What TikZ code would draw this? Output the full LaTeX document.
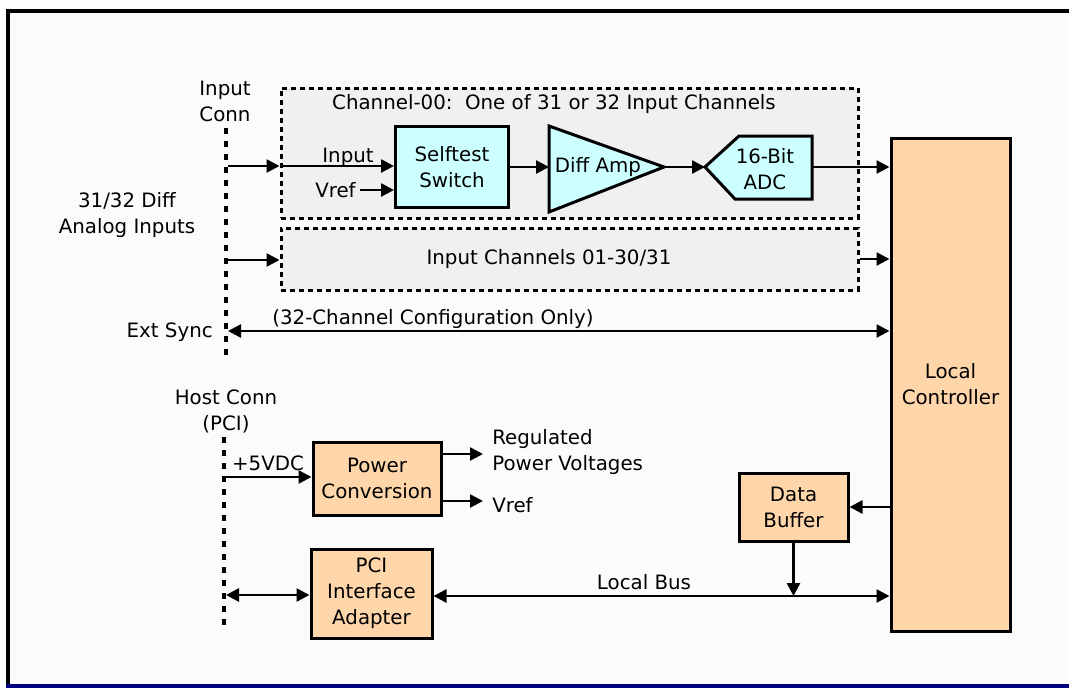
\documentclass[tikz,border=0pt]{standalone}
\usepackage{fontspec}
\setmainfont{DejaVu Sans}
\usetikzlibrary{arrows.meta}
\usetikzlibrary{positioning}
\definecolor{cyanbox}{HTML}{CCFFFF}
\definecolor{peach}{HTML}{FFD5AA}
\definecolor{chgray}{HTML}{F0F0F0}
\definecolor{pagebg}{HTML}{FBFBFB}
\definecolor{navyline}{HTML}{000080}

\begin{document}
\begin{tikzpicture}[x=1pt,y=-1pt,>={Triangle[length=13pt,width=13pt]},
			line width=2.6pt,font=\fontsize{19.8}{26}\selectfont]
			\tikzstyle{block}=[draw,line width=3pt,align=center,inner sep=0pt]
			\tikzstyle{cyanblock}=[block,fill=cyanbox]
			\tikzstyle{peachblock}=[block,fill=peach]
			\tikzstyle{chbox}=[draw,fill=chgray,line width=3pt,dash pattern=on 5pt off 4pt]
			\tikzstyle{conn}=[line width=3.5pt,dash pattern=on 6pt off 7pt]
			\tikzstyle{lbl}=[inner sep=0pt,align=center]

			% page and frame
			\useasboundingbox (0,0) rectangle (1069,688);
			\fill[white] (0,0) rectangle (1069,688);
			\fill[pagebg] (8,11) rectangle (1069,686);
			\draw[line width=4.5pt] (8,686) -- (8,11) -- (1069,11);
			\draw[navyline,line width=4.5pt] (6,686) -- (1069,686);

			% channel groups
			\node[chbox,minimum width=577pt,minimum height=130pt] (ch0) at (569.5,153) {};
			\node[lbl] (ch0title) at (554,104) {Channel-00:\ \ One of 31 or 32 Input Channels};
			\node[chbox,minimum width=577pt,minimum height=62pt] (chs) at (569.5,259) {};
			\node[lbl] (chslabel) at (549,259) {Input Channels 01-30/31};

			% connectors
			\coordinate (inconn top) at (226,128);
			\coordinate (inconn bot) at (226,355);
			\coordinate (hostconn top) at (224,437);
			\coordinate (hostconn bot) at (224,629);
			\draw[conn] (inconn top) -- (inconn bot);
			\draw[conn] (hostconn top) -- (hostconn bot);
			\node[lbl] (inconn) at (225,101) {Input\\Conn};
			\node[lbl] (analog) at (127,215) {31/32 Diff\\Analog Inputs};
			\node[lbl,anchor=east] (extsync) at (214,332) {Ext Sync};
			\node[lbl] (hostconn) at (226,411) {Host Conn\\(PCI)};

			% blocks
			\node[cyanblock,minimum width=113pt,minimum height=81pt] (sw) at (452,167) {Selftest\\Switch};
			\coordinate (amp in) at (549,167);
			\coordinate (amp out) at (664,167);
			\draw[fill=cyanbox,line width=3pt] (549,126) -- (amp out) -- (549,212) -- cycle;
			\node[lbl] (amp) at (598,167) {Diff Amp};
			\coordinate (adc in) at (705,167);
			\coordinate (adc out) at (812,167);
			\draw[fill=cyanbox,line width=3pt] (adc in) -- (739,136) -- (812,136) -- (812,199) -- (735,199) -- cycle;
			\node[lbl] (adc) at (765,169) {16-Bit\\ADC};
			\node[peachblock,minimum width=119pt,minimum height=493pt] (lc) at (950.5,384.5) {Local\\Controller};
			\node[peachblock,minimum width=128pt,minimum height=73pt] (pw) at (377,478.5) {Power\\Conversion};
			\node[peachblock,minimum width=121pt,minimum height=89pt] (pci) at (371.5,593.5) {PCI\\Interface\\Adapter};
			\node[peachblock,minimum width=109pt,minimum height=68pt] (db) at (793.5,507) {Data\\Buffer};

			% free ends and labels
			\coordinate (in0) at (228,166);
			\coordinate (ins) at (228,260);
			\coordinate (sync) at (228,331);
			\coordinate (vdc) at (226,477);
			\coordinate (host) at (226,595);
			\coordinate (bus) at (793.5,596);
			\coordinate (regtip) at (483,454);
			\coordinate (vreftip) at (483,501);
			\node[lbl] (inlabel) at (348,157) {Input};
			\node[lbl,anchor=east] (vrefin) at (357,190) {Vref};
			\node[lbl] (synclabel) at (433,319) {(32-Channel Configuration Only)};
			\node[lbl] (vdclabel) at (268,463) {+5VDC};
			\node[lbl,anchor=west,align=left] (regv) at (491,452) {Regulated\\Power Voltages};
			\node[lbl,anchor=west] (vrefout) at (491,505) {Vref};
			\node[lbl] (buslabel) at (644,582) {Local Bus};

			\path[->]
				(in0) edge (ch0.west |- in0)
				(ch0.west |- in0) edge (sw.west |- in0)
				([xshift=3pt]vrefin.east) edge (sw.west |- vrefin)
				(sw.east |- amp in) edge (amp in)
				(amp out) edge (adc in)
				(adc out) edge (lc.west |- adc out)
				(ins) edge (chs.west |- ins)
				(chs.east) edge (lc.west |- chs.east)
				(sync) edge [<->] (lc.west |- sync)
				(vdc) edge (pw.west |- vdc)
				(pw.east |- regtip) edge (regtip)
				(pw.east |- vreftip) edge (vreftip)
				(host) edge [<->] (pci.west |- host)
				(pci.east |- bus) edge [<->] (lc.west |- bus)
				(db.south) edge (bus)
				(lc.west |- db.east) edge (db.east)
			;
\end{tikzpicture}
\end{document}
